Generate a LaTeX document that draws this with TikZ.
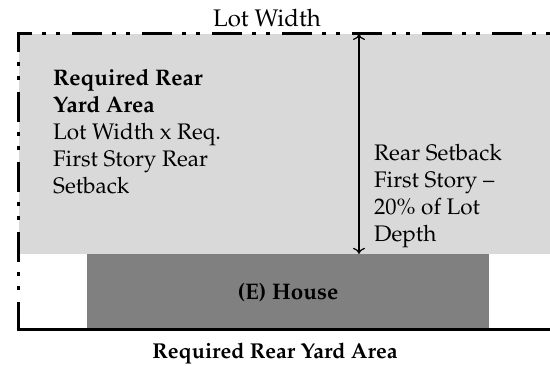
\documentclass[tikz,border=0pt]{standalone}
\usepackage[T1]{fontenc}
\usepackage{mathpazo}
\usetikzlibrary{arrows.meta}

\definecolor{yardgray}{RGB}{217,217,217}
\definecolor{housegray}{RGB}{128,128,128}

\tikzset{
  lotline/.style={line width=3pt, dash pattern=on 30pt off 10pt on 4pt off 10pt on 4pt off 12pt},
  label/.style={inner sep=0pt, align=left, anchor=north west, font=\fontsize{22.5}{27}\selectfont},
}

\begin{document}
\begin{tikzpicture}[x=1pt, y=1pt]
\useasboundingbox (0,0) rectangle (550,366);

% Required rear yard (grey area) and existing house
\fill[yardgray] (19,112) rectangle (550,332);
\node[fill=housegray, minimum width=402pt, minimum height=77pt, inner sep=0pt,
      font=\fontsize{22.5}{27}\selectfont\bfseries] (house) at (288,73.5) {(E) House};

% Lot lines
\draw[lotline, dash phase=15pt] (17,332) -- (550,332);
\draw[lotline, dash phase=12pt] (18,332) -- (18,36);
\draw[line width=3pt] (16.5,36) -- (550,36);

% Rear setback dimension
\coordinate (setTop) at (359,332);
\coordinate (setBot) at (house.north -| setTop);
\draw[{To[length=6pt,width=12pt]}-{To[length=6pt,width=12pt]}, line width=1.2pt] (setTop) -- (setBot);

% Labels
\node[label] (yard) at (53,297) {\textbf{Required Rear}\\\textbf{Yard Area}\\Lot Width x Req.\\First Story Rear\\Setback};
\node[label] (setback) at (374,222) {Rear Setback\\First Story --\\20\% of Lot\\Depth};
\node[font=\fontsize{24}{27}\selectfont, anchor=base] (lotwidth) at (267,339) {Lot Width};
\node[font=\fontsize{21.5}{26}\selectfont\bfseries, anchor=base] (caption) at (275,7) {Required Rear Yard Area};
\end{tikzpicture}
\end{document}
